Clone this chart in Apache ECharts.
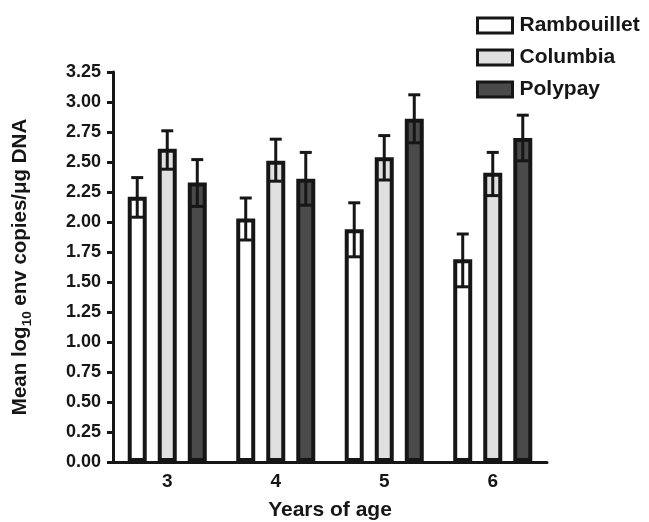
<!DOCTYPE html>
<html>
<head>
<meta charset="utf-8">
<script src="https://cdn.jsdelivr.net/npm/echarts@6/dist/echarts.min.js"></script>
<style>
html,body{margin:0;padding:0;background:#fff;}
#c{width:649px;height:522px;}
</style>
</head>
<body>
<div id="c"></div>
<script>
const categories = ['3', '4', '5', '6'];
const seriesNames = ['Rambouillet', 'Columbia', 'Polypay'];
const rambouillet = [2.21, 2.03, 1.94, 1.69];
const columbia = [2.61, 2.51, 2.54, 2.41];
const polypay = [2.33, 2.36, 2.86, 2.70];
const rambouilletLow = [2.04, 1.85, 1.71, 1.46];
const rambouilletHigh = [2.37, 2.20, 2.16, 1.90];
const columbiaLow = [2.44, 2.34, 2.35, 2.22];
const columbiaHigh = [2.76, 2.69, 2.72, 2.58];
const polypayLow = [2.13, 2.14, 2.66, 2.51];
const polypayHigh = [2.52, 2.58, 3.06, 2.89];
const yTicks = [0, 0.25, 0.5, 0.75, 1, 1.25, 1.5, 1.75, 2, 2.25, 2.5, 2.75, 3, 3.25];

const INK = '#161616';
const FONT = '"Liberation Sans", Arial, sans-serif';
const fills = ['#ffffff', '#dfe0df', '#4a4a4a'];
const BAR_W = 19;
const GAP = 0.58;
const step = BAR_W * (1 + GAP);
const offsets = [-step, 0, step];

const values = [rambouillet, columbia, polypay];
const lows = [rambouilletLow, columbiaLow, polypayLow];
const highs = [rambouilletHigh, columbiaHigh, polypayHigh];

const barSeries = seriesNames.map((name, i) => ({
  name: name,
  type: 'bar',
  data: values[i],
  barWidth: BAR_W,
  barGap: (GAP * 100) + '%',
  itemStyle: { color: fills[i], borderColor: INK, borderWidth: 4 },
  z: 2
}));

const errSeries = seriesNames.map((name, i) => ({
  name: name + ' err',
  type: 'custom',
  z: 5,
  data: categories.map((c, k) => [k, lows[i][k], highs[i][k]]),
  encode: { x: 0, y: [1, 2] },
  renderItem: function (params, api) {
    const k = api.value(0);
    const x = api.coord([k, 0])[0] + offsets[i];
    const yl = api.coord([k, api.value(1)])[1];
    const yh = api.coord([k, api.value(2)])[1];
    const cap = 6;
    const st = { stroke: INK, lineWidth: 3 };
    return {
      type: 'group',
      children: [
        { type: 'line', shape: { x1: x, y1: yl, x2: x, y2: yh }, style: st },
        { type: 'line', shape: { x1: x - cap, y1: yh, x2: x + cap, y2: yh }, style: st },
        { type: 'line', shape: { x1: x - cap, y1: yl, x2: x + cap, y2: yl }, style: st }
      ]
    };
  }
}));

const chart = echarts.init(document.getElementById('c'), null, { renderer: 'canvas' });
chart.setOption({
  animation: false,
  backgroundColor: '#ffffff',
  textStyle: { fontFamily: FONT },
  grid: { left: 113, right: 102, top: 72, bottom: 60, containLabel: false, outerBoundsMode: 'none' },
  legend: {
    data: seriesNames,
    orient: 'vertical',
    left: 476,
    top: 15,
    padding: 0,
    itemWidth: 35,
    itemHeight: 15,
    itemGap: 11,
    icon: 'rect',
    itemStyle: { borderColor: INK, borderWidth: 3 },
    textStyle: { fontFamily: FONT, fontWeight: 'bold', fontSize: 21, color: INK, padding: [0, 0, 0, 2] }
  },
  xAxis: {
    type: 'category',
    data: categories,
    name: 'Years of age',
    nameLocation: 'middle',
    nameGap: 38,
    nameTextStyle: { fontFamily: FONT, fontWeight: 'bold', fontSize: 21, color: INK },
    axisLine: { lineStyle: { color: INK, width: 3 } },
    axisTick: { alignWithLabel: true, length: 6, lineStyle: { color: INK, width: 3 } },
    axisLabel: { fontFamily: FONT, fontWeight: 'bold', fontSize: 19, color: INK, margin: 10 }
  },
  yAxis: {
    type: 'value',
    min: 0,
    max: 3.25,
    interval: 0.25,
    name: '{n|Mean log}{s|10}{n| env copies/μg DNA}',
    nameLocation: 'middle',
    nameGap: 82,
    nameTextStyle: {
      fontFamily: FONT, fontWeight: 'bold', fontSize: 20.5, color: INK,
      rich: {
        n: { fontFamily: FONT, fontWeight: 'bold', fontSize: 20.5, color: INK, lineHeight: 24, verticalAlign: 'bottom' },
        s: { fontFamily: FONT, fontWeight: 'bold', fontSize: 13.5, color: INK, lineHeight: 24, verticalAlign: 'bottom', padding: [0, 0, -3, 0] }
      }
    },
    splitLine: { show: false },
    axisLine: { show: true, lineStyle: { color: INK, width: 3 } },
    axisTick: { show: true, length: 6, lineStyle: { color: INK, width: 3 } },
    axisLabel: {
      fontFamily: FONT, fontWeight: 'bold', fontSize: 18, color: INK, margin: 12,
      formatter: v => yTicks.indexOf(v) >= 0 ? v.toFixed(2) : ''
    }
  },
  series: barSeries.concat(errSeries)
});
</script>
</body>
</html>
